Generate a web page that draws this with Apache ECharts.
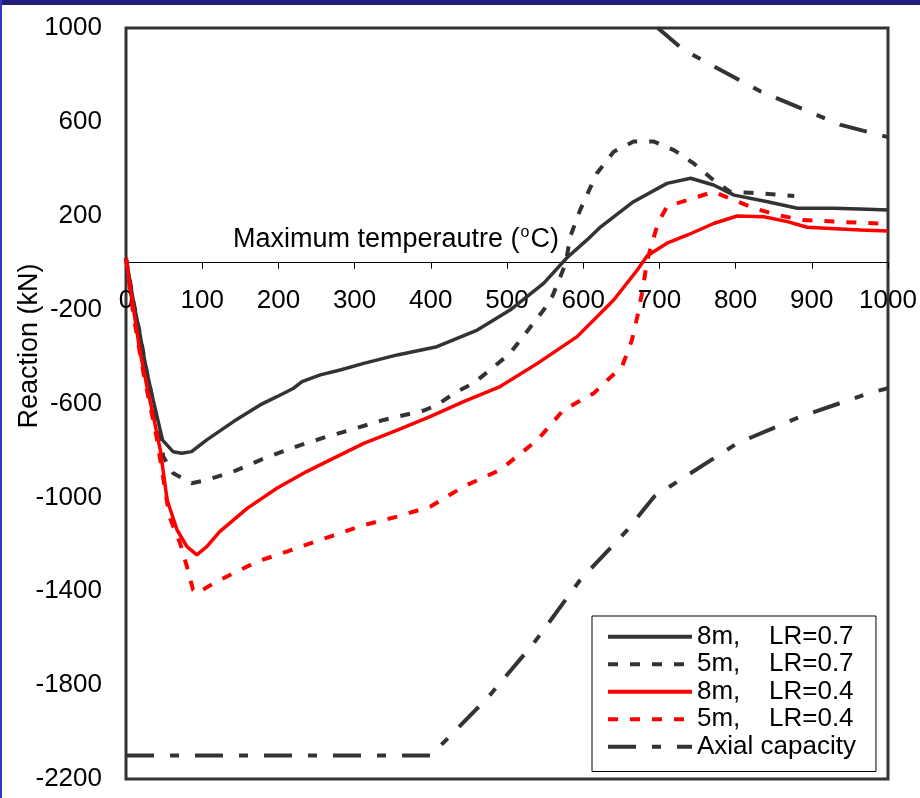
<!DOCTYPE html>
<html>
<head>
<meta charset="utf-8">
<script src="https://cdn.jsdelivr.net/npm/echarts@6/dist/echarts.min.js"></script>
<style>
  html, body { margin: 0; padding: 0; background: #fff; }
  #chart { width: 920px; height: 798px; }
  .frame-top { position: absolute; left: 0; top: 0; width: 920px; height: 5px; background: #1f1f7a; }
  .frame-left { position: absolute; left: 0; top: 0; width: 2px; height: 798px; background: #3434c4; }
</style>
</head>
<body>
<div id="chart"></div>
<div class="frame-top"></div>
<div class="frame-left"></div>
<script>
// temperature (oC), reaction (kN)
const s8m07 = [
  [0, 20], [10, -170], [18, -300], [27, -460], [36, -590], [48, -756], [62, -806],
  [73, -812], [86, -805], [106, -755], [141, -677], [176, -606], [198, -571],
  [220, -535], [231, -507], [255, -478], [281, -457], [312, -429], [356, -393],
  [408, -358], [461, -287], [504, -202], [548, -88], [579, 22], [605, 97],
  [623, 153], [666, 260], [710, 338], [741, 360], [771, 331], [798, 288],
  [842, 260], [881, 232], [929, 232], [973, 228], [1000, 224]
];
const s5m07 = [
  [0, 20], [10, -170], [18, -300], [27, -460], [36, -600], [49, -827], [62, -897],
  [86, -940], [106, -926], [141, -890], [176, -841], [211, -798], [229, -777],
  [264, -741], [294, -713], [338, -670], [391, -630], [408, -606], [434, -550],
  [456, -514], [483, -443], [504, -386], [526, -294], [548, -202], [560, -140],
  [570, -60], [577, -3], [583, 111], [596, 225], [618, 381], [640, 473],
  [666, 516], [693, 516], [719, 480], [745, 423], [771, 352], [793, 302],
  [820, 298], [877, 284]
];
const s8m04 = [
  [0, 20], [9, -180], [18, -372], [27, -520], [36, -656], [45, -798], [54, -1011],
  [67, -1139], [80, -1210], [93, -1245], [106, -1210], [123, -1146], [159, -1047],
  [198, -961], [237, -890], [268, -840], [312, -770], [356, -713], [399, -656],
  [443, -592], [491, -528], [540, -429], [592, -315], [640, -159], [671, -31],
  [684, 30], [710, 83], [737, 118], [772, 168], [802, 199], [837, 196],
  [868, 175], [894, 151], [925, 146], [964, 139], [1000, 135]
];
const s5m04 = [
  [0, 20], [10, -230], [23, -471], [40, -741], [57, -1082], [71, -1196], [80, -1295],
  [88, -1394], [93, -1409], [115, -1366], [141, -1323], [172, -1274], [211, -1231],
  [255, -1181], [268, -1167], [312, -1118], [356, -1082], [399, -1040], [443, -954],
  [491, -883], [540, -755], [574, -628], [614, -556], [632, -500], [651, -443],
  [664, -329], [671, -230], [678, -116], [682, -31], [685, 20], [689, 68],
  [698, 168], [710, 239], [737, 267], [771, 302], [798, 267], [824, 232],
  [855, 203], [888, 182], [929, 175], [1000, 165]
];
// axial capacity: compression branch and tension branch
const axialLow = [
  [0, -2100], [400, -2100], [474, -1856], [535, -1622], [596, -1352], [658, -1139],
  [693, -997], [802, -770], [885, -656], [977, -554], [1000, -535]
];
const axialHigh = [
  [698, 1000], [732, 906], [833, 729], [938, 587], [1000, 535]
];

const xTicks = [0, 100, 200, 300, 400, 500, 600, 700, 800, 900, 1000];
const yTicks = [-2200, -1800, -1400, -1000, -600, -200, 200, 600, 1000];
const names = ['8m,    LR=0.7', '5m,    LR=0.7', '8m,    LR=0.4', '5m,    LR=0.4', 'Axial capacity'];

const FONT = 'Liberation Sans, Arial, sans-serif';
const DARK = '#333333';
const RED = '#ff0000';

// plot box in pixels
const G_TOP = 28, G_BOTTOM = 779;
const Y_MIN = -2200, Y_MAX = 1000;
const zeroPx = G_TOP + (Y_MAX / (Y_MAX - Y_MIN)) * (G_BOTTOM - G_TOP);

const chart = echarts.init(document.getElementById('chart'));

function line(name, data, color, width, type) {
  return {
    name: name,
    type: 'line',
    data: data,
    symbol: 'none',
    showSymbol: false,
    smooth: false,
    animation: false,
    lineStyle: { color: color, width: width, type: type },
    itemStyle: { color: color }
  };
}

chart.setOption({
  animation: false,
  backgroundColor: '#fff',
  grid: {
    left: 126, top: G_TOP, right: 32, bottom: 798 - G_BOTTOM,
    containLabel: false,
    outerBoundsMode: 'none',
    show: true, borderColor: DARK, borderWidth: 3, backgroundColor: '#fff'
  },
  xAxis: {
    type: 'value',
    min: 0, max: 1000,
    offset: -(G_BOTTOM - zeroPx),
    axisLine: { onZero: false, lineStyle: { color: '#000', width: 1 } },
    axisTick: { show: true, length: 6, lineStyle: { color: '#000' }, customValues: xTicks },
    axisLabel: {
      color: '#000', fontFamily: FONT, fontSize: 26, margin: 25,
      customValues: xTicks,
      formatter: v => String(v)
    },
    splitLine: { show: false }
  },
  yAxis: {
    type: 'value',
    min: Y_MIN, max: Y_MAX,
    axisLine: { show: false },
    axisTick: { show: false },
    axisLabel: {
      color: '#000', fontFamily: FONT, fontSize: 26, margin: 24,
      customValues: yTicks,
      formatter: v => String(v)
    },
    splitLine: { show: false }
  },
  legend: {
    orient: 'vertical',
    left: 592, top: 616,
    padding: [7, 20, 11, 14],
    itemGap: 0,
    itemWidth: 84, itemHeight: 14,
    backgroundColor: '#fff',
    borderColor: '#000', borderWidth: 1,
    itemStyle: { opacity: 0 },
    lineStyle: { width: 4 },
    data: names,
    formatter: function (n) {
      const p = n.split(/,\s+/);
      return p.length > 1 ? '{a|' + p[0] + ',}{b|' + p[1] + '}' : '{b|' + n + '}';
    },
    textStyle: {
      color: '#000', fontFamily: FONT, fontSize: 26, lineHeight: 27.5,
      rich: {
        a: { width: 72, fontSize: 26, fontFamily: FONT, color: '#000', lineHeight: 27.5 },
        b: { fontSize: 26, fontFamily: FONT, color: '#000', lineHeight: 27.5 }
      }
    }
  },
  graphic: [
    {
      type: 'text', left: 233, top: 225, z: 10,
      style: {
        text: '{n|Maximum temperautre (}{s|o}{n|C)}',
        rich: {
          n: { fontSize: 27, fontFamily: FONT, fill: '#000', lineHeight: 30 },
          s: { fontSize: 16, fontFamily: FONT, fill: '#000', lineHeight: 30, verticalAlign: 'top', padding: [0, 1, 0, 1] }
        }
      }
    },
    {
      type: 'text', x: 30, y: 346, rotation: Math.PI / 2, z: 10,
      style: {
        text: 'Reaction (kN)', fontSize: 27, fontFamily: FONT, fill: '#000',
        align: 'center', verticalAlign: 'middle'
      }
    }
  ],
  series: [
    line(names[0], s8m07, DARK, 3.5, 'solid'),
    line(names[1], s5m07, DARK, 4, [10, 12]),
    line(names[2], s8m04, RED, 3.5, 'solid'),
    line(names[3], s5m04, RED, 4, [10, 12]),
    line(names[4], axialLow, DARK, 4, [28, 16, 9, 16]),
    line(names[4], axialHigh, DARK, 4, [28, 16, 9, 16])
  ]
});
</script>
</body>
</html>
